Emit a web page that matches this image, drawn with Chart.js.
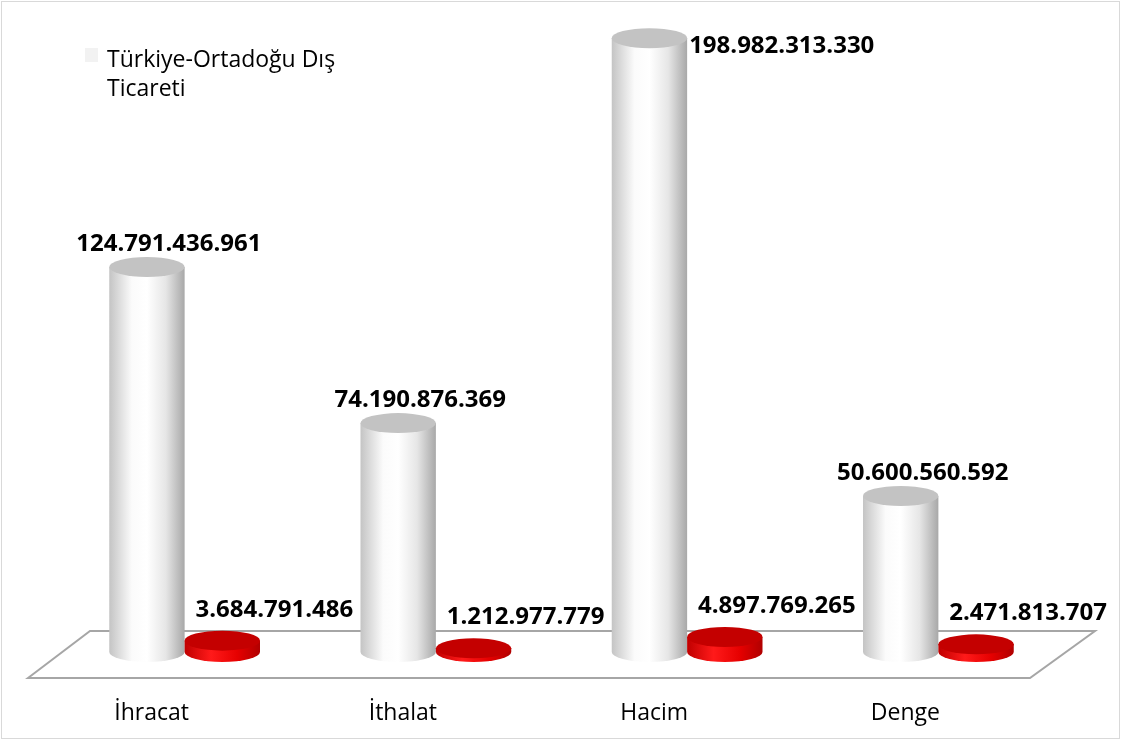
<!DOCTYPE html>
<html>
<head>
<meta charset="utf-8">
<script src="https://cdn.jsdelivr.net/npm/chart.js@4/dist/chart.umd.min.js"></script>
<style>
  html, body { margin: 0; padding: 0; background: #fff; }
  #wrap { width: 1121px; height: 740px; position: relative; }
</style>
</head>
<body>
<div id="wrap"><canvas id="tradeChart" width="1121" height="740"></canvas></div>
<script>
const categories = ['İhracat', 'İthalat', 'Hacim', 'Denge'];
const tradeLabel = 'Türkiye-Ortadoğu Dış Ticareti';
const legendLines = ['Türkiye-Ortadoğu Dış', 'Ticareti'];
const tradeValues = [124791436961, 74190876369, 198982313330, 50600560592];
const secondValues = [3684791486, 1212977779, 4897769265, 2471813707];
const yMax = 200000000000;

function fmt(v) {
  return String(v).replace(/\B(?=(\d{3})+(?!\d))/g, '.');
}

function cylinder(ctx, x, top, base, w, stops, topColor) {
  const rx = w / 2, ry = 10;
  const g = ctx.createLinearGradient(x - rx, 0, x + rx, 0);
  stops.forEach(s => g.addColorStop(s[0], s[1]));
  ctx.beginPath();
  ctx.moveTo(x - rx, top);
  ctx.lineTo(x - rx, base);
  ctx.ellipse(x, base, rx, ry, 0, Math.PI, 0, true);
  ctx.lineTo(x + rx, top);
  ctx.closePath();
  ctx.fillStyle = g;
  ctx.fill();
  ctx.beginPath();
  ctx.ellipse(x, top, rx, ry, 0, 0, Math.PI * 2);
  ctx.fillStyle = topColor;
  ctx.fill();
}

const whiteStops = [[0, '#c4c4c4'], [0.3, '#fbfbfb'], [0.5, '#ffffff'], [0.75, '#e6e6e6'], [1, '#a8a8a8']];
const redStops = [[0, '#c00000'], [0.35, '#ff1a1a'], [0.7, '#e60000'], [1, '#b00000']];

const cylPlugin = {
  id: 'cyl',
  beforeDraw(chart) {
    const ctx = chart.ctx;
    ctx.save();
    ctx.fillStyle = '#fff';
    ctx.fillRect(0, 0, chart.width, chart.height);
    ctx.strokeStyle = '#d9d9d9';
    ctx.lineWidth = 1;
    ctx.strokeRect(1.5, 1.5, chart.width - 3, chart.height - 3);
    ctx.restore();
  },
  beforeDatasetsDraw(chart) {
    const ctx = chart.ctx, a = chart.chartArea;
    const base = chart.scales.y.getPixelForValue(0);
    ctx.save();
    ctx.beginPath();
    ctx.moveTo(a.left - 31, base + 26);
    ctx.lineTo(a.left + 31, base - 21);
    ctx.lineTo(a.right + 31, base - 21);
    ctx.lineTo(a.right - 34, base + 26);
    ctx.closePath();
    ctx.fillStyle = '#fff';
    ctx.fill();
    ctx.strokeStyle = '#a6a6a6';
    ctx.lineWidth = 2;
    ctx.stroke();
    ctx.restore();
  },
  afterDatasetsDraw(chart) {
    const ctx = chart.ctx, a = chart.chartArea;
    ctx.save();
    const m0 = chart.getDatasetMeta(0), m1 = chart.getDatasetMeta(1);
    m0.data.forEach(b => cylinder(ctx, b.x, b.y, b.base, b.width, whiteStops, '#c3c3c3'));
    m1.data.forEach(b => cylinder(ctx, b.x, b.y, b.base, b.width, redStops, '#c40000'));

    ctx.fillStyle = '#000';
    ctx.font = 'bold 24px "Open Sans"';
    ctx.textBaseline = 'alphabetic';
    m0.data.forEach((b, i) => {
      const txt = fmt(tradeValues[i]);
      if (b.y - 10 - 6 - 18 < a.top) {
        ctx.textAlign = 'left';
        ctx.fillText(txt, b.x + b.width / 2 + 2, b.y + 15);
      } else {
        ctx.textAlign = 'center';
        ctx.fillText(txt, b.x + 22, b.y - 10 - 6);
      }
    });
    ctx.textAlign = 'center';
    m1.data.forEach((b, i) => {
      ctx.fillText(fmt(secondValues[i]), b.x + 52, b.y - 10 - 14);
    });
    ctx.restore();
  },
  afterDraw(chart) {
    const ctx = chart.ctx, x = chart.scales.x;
    ctx.save();
    ctx.fillStyle = '#000';
    ctx.font = '23px "Open Sans"';
    ctx.textAlign = 'center';
    ctx.textBaseline = 'alphabetic';
    categories.forEach((c, i) => {
      ctx.fillText(c, x.getPixelForValue(i) - 33, 720);
    });
    // legend
    ctx.fillStyle = '#f2f2f2';
    ctx.fillRect(85, 48, 13, 14);
    ctx.fillStyle = '#000';
    ctx.textAlign = 'left';
    legendLines.forEach((l, i) => ctx.fillText(l, 107, 67 + i * 29));
    ctx.restore();
  }
};

new Chart(document.getElementById('tradeChart').getContext('2d'), {
  type: 'bar',
  data: {
    labels: categories,
    datasets: [{
      label: tradeLabel,
      data: tradeValues,
      backgroundColor: 'rgba(0,0,0,0)'
    }, {
      label: '',
      data: secondValues,
      backgroundColor: 'rgba(0,0,0,0)'
    }]
  },
  options: {
    responsive: false,
    animation: false,
    layout: { padding: { left: 59, right: 57, top: 35, bottom: 88 } },
    datasets: { bar: { barPercentage: 1, categoryPercentage: 0.6 } },
    scales: {
      x: { display: false },
      y: { display: false, min: 0, max: yMax }
    },
    plugins: { legend: { display: false }, tooltip: { enabled: false } }
  },
  plugins: [cylPlugin]
});
</script>
</body>
</html>
